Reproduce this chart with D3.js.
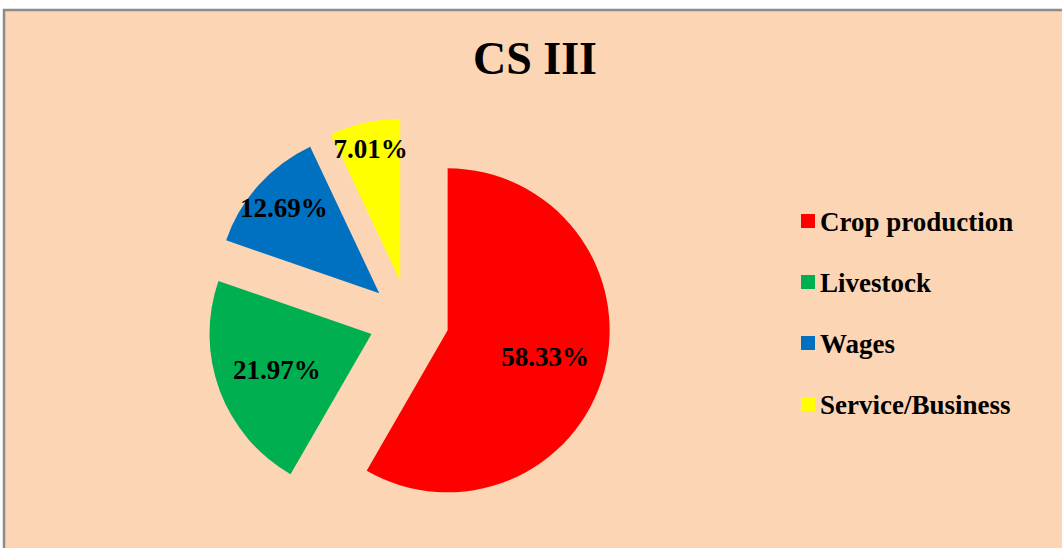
<!DOCTYPE html>
<html>
<head>
<meta charset="utf-8">
<script src="https://cdn.jsdelivr.net/npm/d3@7"></script>
<style>
  html, body { margin: 0; padding: 0; background: #ffffff; }
  svg { display: block; }
  text { font-family: "Times New Roman", "Liberation Serif", serif; font-weight: bold; fill: #000; }
</style>
</head>
<body>
<svg id="chart" width="1062" height="548"></svg>
<script>
const categories = ["Crop production", "Livestock", "Wages", "Service/Business"];
const shares = [58.33, 21.97, 12.69, 7.01];
const colors = ["#FF0000", "#00B050", "#0070C0", "#FFFF00"];
const title = "CS III";

const width = 1062, height = 548;
const svg = d3.select("#chart");

// chart area background + border (runs off the right/bottom edge)
svg.append("rect")
  .attr("x", 4).attr("y", 10)
  .attr("width", width + 10).attr("height", height + 10)
  .attr("fill", "#FCD5B4")
  .attr("stroke", "#8c8c8c")
  .attr("stroke-width", 2.5);

svg.append("text")
  .attr("x", 535).attr("y", 74)
  .attr("text-anchor", "middle")
  .style("font-size", "46px")
  .text(title);

const cx = 409, cy = 320, radius = 162, explode = 40;

const data = categories.map((c, i) => ({ label: c, value: shares[i], color: colors[i] }));
const pie = d3.pie().sort(null).value((d) => d.value);
const arcs = pie(data);
const arc = d3.arc().innerRadius(0).outerRadius(radius);

const pieGrp = svg.append("g").attr("transform", `translate(${cx},${cy})`);

const offset = (d, r) => {
  const a = (d.startAngle + d.endAngle) / 2;
  return [Math.sin(a) * r, -Math.cos(a) * r];
};

const slice = pieGrp.selectAll(".slice")
  .data(arcs)
  .join("g")
  .attr("class", "slice")
  .attr("transform", (d) => {
    const [dx, dy] = offset(d, explode);
    return `translate(${dx},${dy})`;
  });

slice.append("path")
  .attr("d", arc)
  .attr("fill", (d) => d.data.color);

// small slices get their labels pushed further out, like excel does
slice.append("text")
  .attr("transform", (d) => {
    const span = d.endAngle - d.startAngle;
    const r = span > 1 ? 101 : span > 0.6 ? 128 : 136;
    const [x, y] = offset(d, r);
    return `translate(${x},${y})`;
  })
  .attr("text-anchor", "middle")
  .attr("dy", "0.35em")
  .style("font-size", "27px")
  .text((d) => d.data.value.toFixed(2) + "%");

const legend = svg.append("g").attr("transform", "translate(801,214)");
const item = legend.selectAll(".legend-item")
  .data(data)
  .join("g")
  .attr("class", "legend-item")
  .attr("transform", (d, i) => `translate(0,${i * 61})`);

item.append("rect")
  .attr("width", 14).attr("height", 14)
  .attr("fill", (d) => d.color);

item.append("text")
  .attr("x", 19).attr("y", 17)
  .style("font-size", "27px")
  .text((d) => d.label);
</script>
</body>
</html>
